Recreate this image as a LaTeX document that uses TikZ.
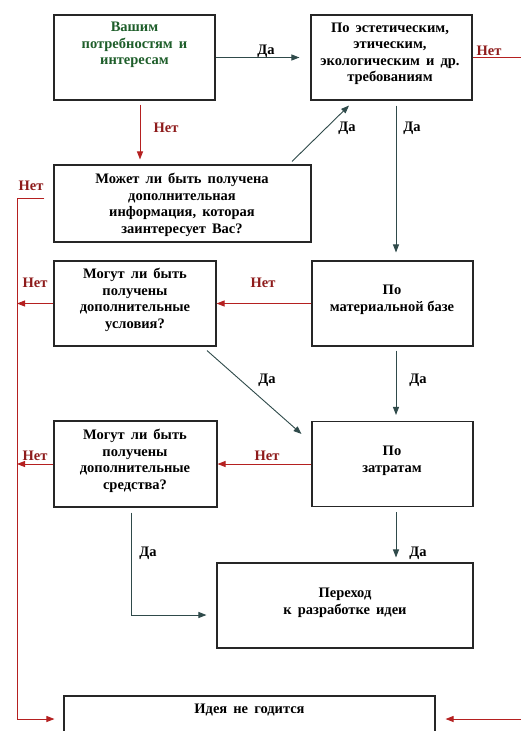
\documentclass[tikz,border=0pt]{standalone}
\usepackage{fontspec}
\setmainfont{Liberation Serif}
\usetikzlibrary{arrows.meta}
\definecolor{darkline}{HTML}{2F4A4A}
\definecolor{redline}{HTML}{B52020}
\definecolor{redtext}{HTML}{8E1B1B}
\definecolor{greentext}{HTML}{1E5E2A}
\newcommand\widesp{\spaceskip=0.42em\relax}
\newcommand\normsp{\spaceskip=0pt\relax}
\begin{document}
\begin{tikzpicture}[x=1pt,y=-1pt,
  font=\fontsize{14.5}{16.5}\selectfont\bfseries,
  box/.style={draw=black!85, line width=1.1pt, rectangle, inner sep=0pt},
  txt/.style={align=center, inner sep=0pt, execute at begin node=\widesp},
  yesarr/.style={draw=darkline, line width=0.9pt, -{Triangle[length=8pt,width=6pt]}},
  noarr/.style={draw=redline, line width=0.9pt, -{Triangle[length=8pt,width=6pt]}},
  noline/.style={draw=redline, line width=0.9pt},
  yeslbl/.style={text=black, inner sep=0pt},
  nolbl/.style={text=redtext, inner sep=0pt}]
\useasboundingbox (0,0) rectangle (521,731);
\clip (0,0) rectangle (521,731);
\fill[white] (0,0) rectangle (521,731);

% boxes
\node[box, minimum width=161pt, minimum height=85pt] (A) at (134.5,57.5) {};
\node[box, minimum width=161pt, minimum height=85pt] (B) at (391.5,57.5) {};
\node[box, minimum width=257pt, minimum height=77pt] (C) at (182.5,203.5) {};
\node[box, minimum width=162pt, minimum height=85pt] (D) at (135,303.5) {};
\node[box, minimum width=161pt, minimum height=85pt] (E) at (392.5,303.5) {};
\node[box, minimum width=163pt, minimum height=86pt] (F) at (135.5,464) {};
\node[box, minimum width=161pt, minimum height=85pt] (G) at (392.5,464) {};
\node[box, minimum width=256pt, minimum height=85pt] (H) at (345,605.5) {};
\node[box, minimum width=371pt, minimum height=46pt] (I) at (249.5,719) {};

% texts
\node[txt, text=greentext] (At) at (134.5,45) {Вашим\\потребностям и\\интересам};
\node[txt] (Bt) at (390,54) {По эстетическим,\\этическим,\\экологическим и др.\\требованиям};
\node[txt] (Ct) at (182,205) {Может ли быть получена\\дополнительная\\информация, которая\\заинтересует Вас?};
\node[txt] (Dt) at (135,300) {Могут ли быть\\получены\\дополнительные\\условия?};
\node[txt] (Et) at (392,300) {По\\{\normsp материальной базе}};
\node[txt] (Ft) at (135,461) {Могут ли быть\\получены\\дополнительные\\средства?};
\node[txt] (Gt) at (392,461) {По\\затратам};
\node[txt] (Ht) at (345,603) {Переход\\к разработке идеи};
\node[txt] (It) at (249.5,710) {Идея не годится};

% helper coordinates
\coordinate (L1) at (17,198);
\coordinate (L2) at (17,719);
\coordinate (R0) at (521,57);
\coordinate (R1) at (521,719);
\coordinate (Fc) at (131,615);

% yes connectors
\draw[yesarr, shorten >=11pt] (A.east) -- (B.west);
\draw[yesarr] ([xshift=109.5pt,yshift=3pt]C.north) -- ([xshift=-42.5pt,yshift=-5pt]B.south);
\draw[yesarr] ([xshift=4.5pt,yshift=-5pt]B.south) -- ([xshift=3.5pt,yshift=8pt]E.north);
\draw[yesarr] ([xshift=72pt,yshift=-4pt]D.south) -- ([xshift=-10pt,yshift=-13pt]G.north west);
\draw[yesarr] ([xshift=3.5pt,yshift=-4pt]E.south) -- ([xshift=3.5pt,yshift=6pt]G.north);
\draw[yesarr, shorten >=10pt] ([xshift=-4.5pt,yshift=-5pt]F.south) -- (Fc) -- (Fc -| H.west);
\draw[yesarr] ([xshift=3.5pt,yshift=-5pt]G.south) -- ([xshift=51pt,yshift=5pt]H.north);

% no connectors
\draw[noline] (B.east) -- (B.east -| R0);
\draw[noarr, shorten <=4pt, shorten >=5pt] ([xshift=5.5pt]A.south) -- ([xshift=-42.5pt]C.north);
\draw[noarr, shorten >=9pt] ([xshift=-9pt,yshift=5.5pt]C.west) -- (L1) -- (L2) -- (I.west);
\draw[noarr] (E.west) -- (D.east);
\draw[noarr] (D.west) -- (D.west -| L1);
\draw[noarr] (G.west) -- (F.east);
\draw[noarr] (F.west) -- (F.west -| L1);
\draw[noarr, shorten >=10pt] (R1) -- (I.east);

% labels
\node[yeslbl] (y1) at (266,51) {Да};
\node[yeslbl] (y2) at (347,128) {Да};
\node[yeslbl] (y3) at (412,128) {Да};
\node[yeslbl] (y4) at (267,380) {Да};
\node[yeslbl] (y5) at (418,380) {Да};
\node[yeslbl] (y6) at (148,553) {Да};
\node[yeslbl] (y7) at (418,553) {Да};
\node[nolbl] (n1) at (489,51) {Нет};
\node[nolbl] (n2) at (166,128) {Нет};
\node[nolbl] (n3) at (31,186) {Нет};
\node[nolbl] (n4) at (263,283) {Нет};
\node[nolbl] (n5) at (35,283) {Нет};
\node[nolbl] (n6) at (267,456) {Нет};
\node[nolbl] (n7) at (35,456) {Нет};
\end{tikzpicture}
\end{document}
